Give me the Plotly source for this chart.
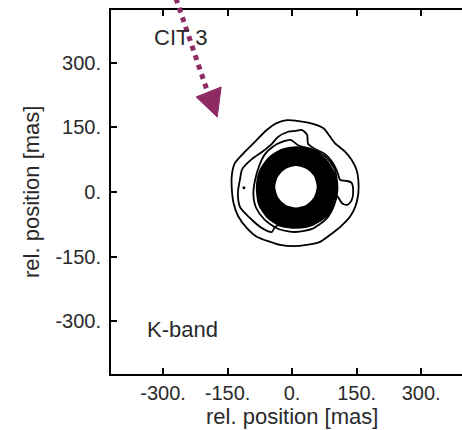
import plotly.graph_objects as go

# ---------------- data (mas) ----------------
tick_vals = [-300, -150, 0, 150, 300]
tick_text = ["-300.", "-150.", "0.", "150.", "300."]

# outermost contour
c1_x = [-12, 42, 73, 88, 100, 123, 139, 150, 154, 154, 147, 135, 112, 88, 65, 34, 3, -28, -51, -82, -105, -125, -136, -140, -140, -133, -113, -90, -59, -36, -12]
c1_y = [167, 160, 148, 129, 113, 94, 74, 51, 28, -3, -34, -57, -81, -100, -116, -123, -126, -123, -116, -104, -84, -57, -26, 5, 40, 67, 90, 113, 144, 160, 167]

# second contour (with the lobe on the right)
c2_x = [-121, -116, -93, -70, -47, -33, -9, 7, 23, 35, 37, 53, 77, 93, 105, 112, 125, 138, 142, 138, 128, 116, 107, 99, 95, 77, 53, 23, -28, -40, -47, -70, -93, -121, -126, -121]
c2_y = [30, 53, 77, 93, 112, 128, 140, 142, 144, 133, 112, 100, 88, 70, 47, 28, 26, 22, 0, -20, -30, -26, -12, -4, -35, -58, -72, -81, -77, -81, -93, -84, -65, -35, -2, 30]

# third contour, hugging the dense ring
c3_x = [105, 98, 78, 45, 15, -3, -22, -44, -63, -76, -86, -90, -84, -64, -32, 8, 48, 80, 98, 105, 105]
c3_y = [20, 55, 82, 100, 108, 121, 117, 106, 88, 62, 28, -4, -36, -64, -86, -93, -85, -62, -30, 0, 20]

# dense (saturated) ring: outer and inner edges
ring_out_x = [104, 97, 78, 48, 11, -25, -55, -75, -82, -77, -58, -28, 11, 48, 78, 97, 104]
ring_out_y = [10, 45, 75, 97, 104, 98, 78, 48, 10, -28, -58, -78, -83, -76, -56, -26, 10]
ring_in_x = [59, 52, 34, 9, -16, -34, -41, -34, -16, 9, 34, 52, 59]
ring_in_y = [12, 38, 55, 62, 55, 37, 12, -13, -31, -38, -31, -13, 12]

# isolated speck
dot_x = [-112]
dot_y = [10]

# labels
label_cit = ("CIT 3", -260, 358)
label_band = ("K-band", -255, -320)

# arrow (mas): dotted shaft and triangular head
arrow_shaft = [(-270, 450), (-198, 237)]
arrow_head = [(-223, 221), (-165, 244), (-174, 174)]

# ---------------- figure ----------------
XR = [-421, 395]
YR = [-423, 423]
FONT = "Liberation Sans, Arial, sans-serif"
TXT = "#2a2a2a"
ARROW = "#8E2B63"

fig = go.Figure()

line = dict(color="black", width=1.8, shape="spline", smoothing=0.7)
fig.add_trace(go.Scatter(x=c1_x, y=c1_y, mode="lines", line=line, hoverinfo="skip"))
fig.add_trace(go.Scatter(x=c2_x, y=c2_y, mode="lines", line=line, hoverinfo="skip"))
fig.add_trace(go.Scatter(x=c3_x, y=c3_y, mode="lines", line=line, hoverinfo="skip"))
fig.add_trace(go.Scatter(x=ring_out_x, y=ring_out_y, mode="lines", fill="toself", fillcolor="black",
                         line=dict(color="black", width=2, shape="spline", smoothing=0.7), hoverinfo="skip"))
fig.add_trace(go.Scatter(x=ring_in_x, y=ring_in_y, mode="lines", fill="toself", fillcolor="white",
                         line=dict(color="black", width=1.5, shape="spline", smoothing=0.7), hoverinfo="skip"))
fig.add_trace(go.Scatter(x=dot_x, y=dot_y, mode="markers", marker=dict(color="black", size=3), hoverinfo="skip"))

def px(x):
    return (x - XR[0]) / (XR[1] - XR[0])

def py(y):
    return (y - YR[0]) / (YR[1] - YR[0])

shapes = [
    dict(type="line", xref="paper", yref="paper",
         x0=px(arrow_shaft[0][0]), y0=py(arrow_shaft[0][1]),
         x1=px(arrow_shaft[1][0]), y1=py(arrow_shaft[1][1]),
         line=dict(color=ARROW, width=5, dash="dot")),
    dict(type="path", xref="paper", yref="paper",
         path="M {} {} L {} {} L {} {} Z".format(*[v for p in arrow_head for v in (px(p[0]), py(p[1]))]),
         fillcolor=ARROW, line=dict(color=ARROW, width=1)),
]

annotations = [
    dict(text=label_cit[0], x=label_cit[1], y=label_cit[2], xref="x", yref="y", showarrow=False,
         font=dict(family=FONT, size=22, color=TXT)),
    dict(text=label_band[0], x=label_band[1], y=label_band[2], xref="x", yref="y", showarrow=False,
         font=dict(family=FONT, size=22, color=TXT)),
    dict(text="rel. position [mas]", x=0, y=-0.118, xref="x", yref="paper", showarrow=False,
         font=dict(family=FONT, size=22, color=TXT), yanchor="middle"),
    dict(text="rel. position [mas]", x=-0.228, y=0.5, xref="paper", yref="paper", showarrow=False,
         textangle=-90, font=dict(family=FONT, size=22, color=TXT), xanchor="center"),
]

fig.update_layout(
    width=462, height=430,
    margin=dict(l=111, r=0, t=10, b=56),
    paper_bgcolor="white", plot_bgcolor="white",
    showlegend=False,
    shapes=shapes, annotations=annotations,
    font=dict(family=FONT, size=20, color=TXT),
)
fig.update_xaxes(range=XR, tickvals=tick_vals, ticktext=tick_text, ticks="inside", ticklen=6,
                 tickwidth=1.5, tickcolor="black", showline=True, linecolor="black", linewidth=2,
                 mirror="ticks", showgrid=False, zeroline=False, fixedrange=True,
                 tickfont=dict(family=FONT, size=20, color=TXT), ticklabelstandoff=0)
fig.update_yaxes(range=YR, tickvals=tick_vals, ticktext=tick_text, ticks="inside", ticklen=6,
                 tickwidth=1.5, tickcolor="black", showline=True, linecolor="black", linewidth=2,
                 mirror=False, showgrid=False, zeroline=False, fixedrange=True,
                 tickfont=dict(family=FONT, size=20, color=TXT), ticklabelstandoff=4)

fig.write_html("out.html", config={"displayModeBar": False})
